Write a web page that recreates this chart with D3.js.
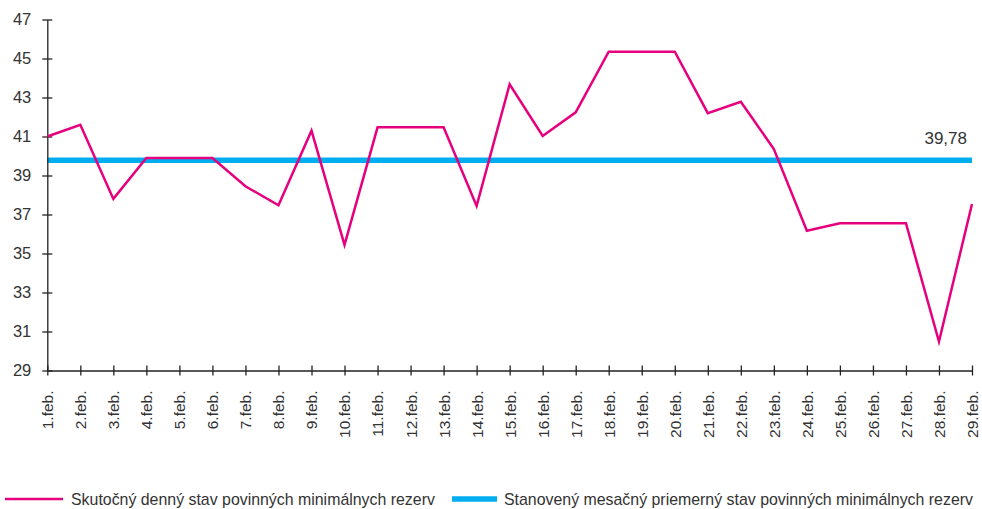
<!DOCTYPE html>
<html>
<head>
<meta charset="utf-8">
<script src="https://cdn.jsdelivr.net/npm/d3@7"></script>
<style>
  body { margin: 0; background: #fff; }
  text { font-family: "Liberation Sans", Arial, sans-serif; fill: #333; }
</style>
</head>
<body>
<div id="chart"></div>
<script>
const days = d3.range(1, 30).map(d => d + ".feb.");
const actual = [41.0, 41.6, 37.8, 39.9, 39.9, 39.9, 38.45, 37.47, 41.3, 35.44,
                41.47, 41.47, 41.47, 37.44, 43.68, 41.03, 42.24, 45.35, 45.35, 45.35,
                42.2, 42.78, 40.36, 36.17, 36.55, 36.55, 36.55, 30.48, 37.54];
const required = 39.78;
const yTicks = [29, 31, 33, 35, 37, 39, 41, 43, 45, 47];
const legendLabels = ["Skutočný denný stav povinných minimálnych rezerv",
                      "Stanovený mesačný priemerný stav povinných minimálnych rezerv"];

const width = 982, height = 509;
const pink = "#e6007e", blue = "#00aeef";

const svg = d3.select("#chart").append("svg")
    .attr("width", width)
    .attr("height", height);

const x = d3.scalePoint().domain(days).range([47.3, 972]);
const y = d3.scaleLinear().domain([29, 47]).range([370.5, 19.5]);

// required average line
svg.append("line")
    .attr("x1", x(days[0])).attr("x2", x(days[days.length - 1]))
    .attr("y1", y(required)).attr("y2", y(required))
    .attr("stroke", blue).attr("stroke-width", 5.5);

svg.append("text")
    .attr("x", 967).attr("y", 144)
    .attr("text-anchor", "end")
    .attr("font-size", 17)
    .text(String(required).replace(".", ","));

// axes
const yAxis = svg.append("g")
    .attr("transform", `translate(${x(days[0])},0)`)
    .call(d3.axisLeft(y).tickValues(yTicks).tickSize(5).tickSizeOuter(0).tickPadding(11));
yAxis.selectAll(".tick line").attr("x2", 5).attr("x1", -5);

const xAxis = svg.append("g")
    .attr("transform", `translate(0,${y(29)})`)
    .call(d3.axisBottom(x).tickSize(5).tickSizeOuter(0));
xAxis.selectAll(".tick line").attr("y1", -5).attr("y2", 5);
xAxis.selectAll(".tick text")
    .attr("transform", "rotate(-90)")
    .attr("text-anchor", "end")
    .attr("x", -20).attr("y", 0).attr("dy", "0.35em");

[yAxis, xAxis].forEach(a => {
    a.select(".domain").attr("stroke", "#222").attr("stroke-width", 1.3);
    a.selectAll(".tick line").attr("stroke", "#222").attr("stroke-width", 1.3);
    a.selectAll(".tick text").attr("font-family", "Liberation Sans, Arial, sans-serif")
        .attr("fill", "#333");
});
yAxis.selectAll(".tick text").attr("font-size", 16.5);
xAxis.selectAll(".tick text").attr("font-size", 15.5);

// actual daily line
const line = d3.line()
    .x((d, i) => x(days[i]))
    .y(d => y(d));

svg.append("path")
    .datum(actual)
    .attr("fill", "none")
    .attr("stroke", pink)
    .attr("stroke-width", 2.5)
    .attr("stroke-linejoin", "miter")
    .attr("d", line);

// legend
const legend = [
    { x: 5, len: 58, color: pink, w: 2.5, tx: 71 },
    { x: 452, len: 45, color: blue, w: 5.5, tx: 504 }
];
legend.forEach((l, i) => {
    svg.append("line")
        .attr("x1", l.x).attr("x2", l.x + l.len)
        .attr("y1", 499).attr("y2", 499)
        .attr("stroke", l.color).attr("stroke-width", l.w);
    svg.append("text")
        .attr("x", l.tx).attr("y", 505)
        .attr("font-size", 15.9)
        .text(legendLabels[i]);
});
</script>
</body>
</html>
